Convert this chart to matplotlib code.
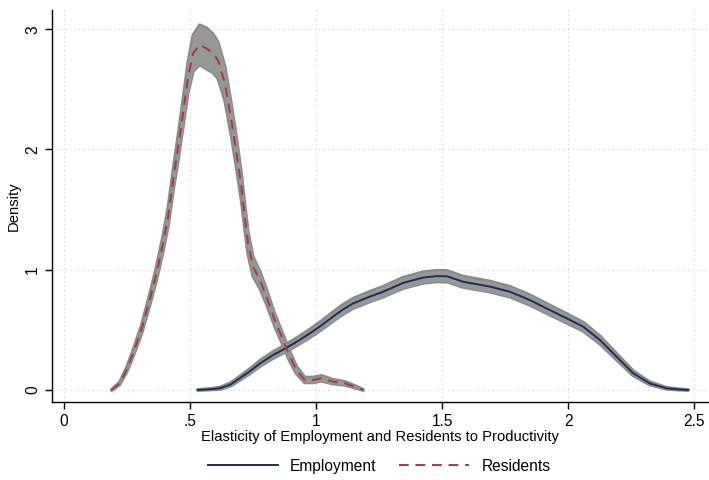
import matplotlib
matplotlib.use("Agg")
import matplotlib.pyplot as plt
from matplotlib.lines import Line2D

plt.rcParams['font.family'] = ['Liberation Sans', 'DejaVu Sans']

# Employment density (solid navy) with CI half-widths
emp_x = [0.531, 0.58, 0.618, 0.66, 0.697, 0.737, 0.777, 0.829, 0.882, 0.93, 0.975,
         1.02, 1.067, 1.107, 1.147, 1.213, 1.266, 1.345, 1.425, 1.48, 1.52, 1.583,
         1.689, 1.769, 1.848, 1.927, 1.994, 2.06, 2.126, 2.192, 2.258, 2.324, 2.39,
         2.44, 2.476]
emp_y = [0.0, 0.006, 0.014, 0.045, 0.097, 0.155, 0.22, 0.29, 0.35, 0.41, 0.47,
         0.535, 0.61, 0.67, 0.72, 0.776, 0.817, 0.89, 0.935, 0.947, 0.945, 0.90,
         0.86, 0.817, 0.748, 0.665, 0.596, 0.526, 0.416, 0.277, 0.139, 0.055, 0.014,
         0.004, 0.0]
emp_ci = [0.002, 0.004, 0.008, 0.012, 0.016, 0.02, 0.024, 0.027, 0.03, 0.032, 0.034,
          0.036, 0.038, 0.04, 0.041, 0.042, 0.043, 0.045, 0.046, 0.046, 0.046, 0.045,
          0.044, 0.043, 0.042, 0.04, 0.038, 0.036, 0.032, 0.026, 0.019, 0.012, 0.006,
          0.003, 0.001]

# Residents density (dashed maroon) with CI half-widths
res_x = [0.189, 0.221, 0.248, 0.274, 0.307, 0.34, 0.367, 0.393, 0.413, 0.433, 0.453,
         0.472, 0.492, 0.512, 0.538, 0.565, 0.591, 0.611, 0.638, 0.664, 0.684, 0.704,
         0.717, 0.73, 0.75, 0.777, 0.803, 0.836, 0.869, 0.896, 0.922, 0.955, 0.988,
         1.021, 1.067, 1.114, 1.16, 1.187]
res_y = [0.0, 0.055, 0.166, 0.305, 0.5, 0.75, 0.97, 1.22, 1.44, 1.745, 2.02,
         2.30, 2.60, 2.80, 2.87, 2.84, 2.80, 2.74, 2.55, 2.24, 1.97, 1.68,
         1.44, 1.22, 1.025, 0.915, 0.776, 0.58, 0.415, 0.277, 0.166, 0.083, 0.083,
         0.097, 0.069, 0.055, 0.022, 0.0]
res_ci = [0.003, 0.01, 0.018, 0.026, 0.035, 0.045, 0.055, 0.065, 0.075, 0.085, 0.1,
          0.11, 0.125, 0.15, 0.165, 0.17, 0.16, 0.15, 0.14, 0.13, 0.12, 0.11,
          0.1, 0.09, 0.08, 0.07, 0.06, 0.05, 0.045, 0.04, 0.03, 0.022, 0.022,
          0.022, 0.018, 0.014, 0.008, 0.002]

xticks = [0, 0.5, 1, 1.5, 2, 2.5]
xtick_labels = ['0', '.5', '1', '1.5', '2', '2.5']
yticks = [0, 1, 2, 3]
ytick_labels = ['0', '1', '2', '3']

navy = '#1c2d5c'
maroon = '#a33a45'
band = '#979797'
band_edge = '#8a8a8a'

fig = plt.figure(figsize=(7.09, 4.8), dpi=100)
ax = fig.add_axes([0.0733, 0.1625, 0.9253, 0.8165])

def draw(xs, ys, ci, color, ls, label):
    lo = [y - c for y, c in zip(ys, ci)]
    hi = [y + c for y, c in zip(ys, ci)]
    ax.fill_between(xs, lo, hi, color=band, lw=0, zorder=2)
    for edge in (lo, hi):
        ax.plot(xs, edge, color=band_edge, lw=2.4, zorder=2.2, solid_capstyle='round',
                solid_joinstyle='round')
    ax.fill_between(xs, lo, hi, color=band, lw=0, zorder=2.3)
    ax.plot(xs, ys, color=color, lw=1.4, ls=ls, zorder=3, label=label,
            dash_capstyle='butt')

draw(emp_x, emp_y, emp_ci, navy, '-', 'Employment')
draw(res_x, res_y, res_ci, maroon, (0, (5, 3.5)), 'Residents')

ax.set_xlim(-0.048, 2.555)
ax.set_ylim(-0.1, 3.159)
ax.set_xticks(xticks)
ax.set_xticklabels(xtick_labels)
ax.set_yticks(yticks)
ax.set_yticklabels(ytick_labels, rotation=90, va='center')
ax.grid(True, color='#cccccc', ls=(0, (1, 3)), lw=0.8)
ax.set_axisbelow(True)
for s in ['top', 'right']:
    ax.spines[s].set_visible(False)
for s in ['left', 'bottom']:
    ax.spines[s].set_linewidth(1.0)
ax.tick_params(direction='out', length=5, width=1, labelsize=11.2, colors='black')
ax.set_xlabel('Elasticity of Employment and Residents to Productivity', fontsize=10.6, labelpad=1)
ax.set_ylabel('Density', fontsize=10.6, labelpad=3)

handles = [Line2D([], [], color=navy, lw=1.4, ls='-'),
           Line2D([], [], color=maroon, lw=1.4, ls=(0, (5, 3.5)))]
fig.legend(handles, ['Employment', 'Residents'], loc='center', bbox_to_anchor=(0.5346, 0.029),
           ncol=2, frameon=False, fontsize=11.2, handlelength=4.5, columnspacing=1.5,
           handletextpad=0.77)

fig.savefig('out.png', dpi=100)
